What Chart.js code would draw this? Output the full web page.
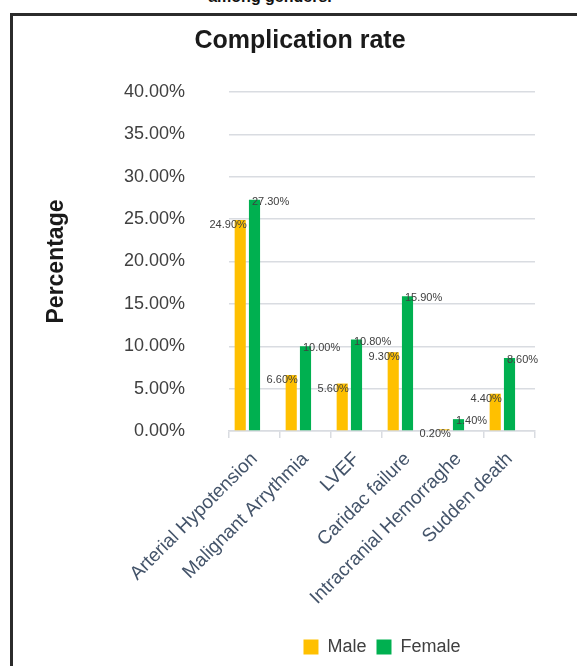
<!DOCTYPE html>
<html>
<head>
<meta charset="utf-8">
<script src="https://cdn.jsdelivr.net/npm/chart.js@4/dist/chart.umd.min.js"></script>
<style>
  html, body { margin: 0; padding: 0; background: #fff; overflow: hidden; }
  body { width: 577px; height: 666px; position: relative; }
  #caption { position: absolute; left: 0; width: 540px; top: -11.5px; text-align: center;
    font: bold 16px "Liberation Sans", Arial, sans-serif; line-height: 16px; color: #111; }
  #frame { position: absolute; left: 10px; top: 13px; width: 620px; height: 700px;
    border: 3px solid #2b2b2b; box-sizing: border-box; }
  #wrap { position: absolute; left: 0; top: 0; width: 577px; height: 666px; }
</style>
</head>
<body>
<div id="caption">among genders.</div>
<div id="frame"></div>
<div id="wrap"><canvas id="c" width="577" height="666"></canvas></div>
<script>
const categories = ["Arterial Hypotension", "Malignant Arrythmia", "LVEF", "Caridac failure", "Intracranial Hemorraghe", "Sudden death"];
const maleValues = [24.9, 6.6, 5.6, 9.3, 0.2, 4.4];
const femaleValues = [27.3, 10.0, 10.8, 15.9, 1.4, 8.6];
// empty third series slot (no values) as in the original Excel chart
const emptySeries = [null, null, null, null, null, null];
const yTicks = [0, 5, 10, 15, 20, 25, 30, 35, 40];

const FONT = '"Liberation Sans", Arial, sans-serif';

const dataLabels = {
  id: 'dataLabels',
  afterDatasetsDraw(chart) {
    const ctx = chart.ctx;
    ctx.save();
    ctx.font = '11px ' + FONT;
    ctx.fillStyle = '#404040';
    ctx.textBaseline = 'middle';
    chart.data.datasets.forEach((ds, di) => {
      if (di > 1) return;
      const meta = chart.getDatasetMeta(di);
      meta.data.forEach((el, i) => {
        const v = ds.data[i];
        if (v == null) return;
        const txt = v.toFixed(2) + '%';
        if (di === 0) {
          ctx.textAlign = 'right';
          ctx.fillText(txt, el.x + el.width / 2 + 1, el.y + 5);
        } else {
          ctx.textAlign = 'left';
          ctx.fillText(txt, el.x - el.width / 2 + 3, el.y + 2);
        }
      });
    });
    ctx.restore();
  }
};

new Chart(document.getElementById('c'), {
  type: 'bar',
  data: {
    labels: categories,
    datasets: [
      { label: 'Male', data: maleValues, backgroundColor: '#FFC000', borderWidth: 0 },
      { label: 'Female', data: femaleValues, backgroundColor: '#00B050', borderWidth: 0 },
      { label: '', data: emptySeries, backgroundColor: 'rgba(0,0,0,0)', borderWidth: 0 }
    ]
  },
  options: {
    responsive: false,
    animation: false,
    devicePixelRatio: 1,
    datasets: { bar: { categoryPercentage: 0.84, barPercentage: 0.78 } },
    layout: { padding: { left: 65, right: 42, top: 0, bottom: 0 } },
    plugins: {
      title: {
        display: true,
        text: 'Complication rate',
        color: '#1a1a1a',
        font: { family: FONT, size: 25, weight: 'bold' },
        padding: { top: 26, bottom: 36 }
      },
      legend: {
        position: 'bottom',
        fullSize: false,
        labels: {
          boxWidth: 15, boxHeight: 15, padding: 10,
          color: '#404040',
          font: { family: FONT, size: 18 },
          filter: item => item.text !== ''
        }
      },
      tooltip: { enabled: false }
    },
    scales: {
      x: {
        offset: true,
        grid: { offset: true, drawOnChartArea: false, drawTicks: true, tickLength: 7, color: '#D9DCE1', lineWidth: 1.5 },
        border: { display: true, color: '#D9DCE1', width: 1.5 },
        ticks: {
          autoSkip: false, minRotation: 45, maxRotation: 45, padding: 10,
          color: '#44546A', font: { family: FONT, size: 19 }
        },
        afterFit(scale) { scale.height = 197; }
      },
      y: {
        min: 0, max: 40,
        afterBuildTicks(scale) { scale.ticks = yTicks.map(v => ({ value: v })); },
        grid: { drawTicks: false, color: '#D9DCE1', lineWidth: 1.5 },
        border: { display: false },
        ticks: {
          padding: 44, color: '#404040', font: { family: FONT, size: 18 },
          callback: v => Number(v).toFixed(2) + '%'
        },
        title: {
          display: true, text: 'Percentage', color: '#1a1a1a',
          font: { family: FONT, size: 23, weight: 'bold' },
          padding: { top: -21.8, bottom: 0 }
        },
        afterFit(scale) { scale.width = 164; }
      }
    }
  },
  plugins: [dataLabels]
});
</script>
</body>
</html>
